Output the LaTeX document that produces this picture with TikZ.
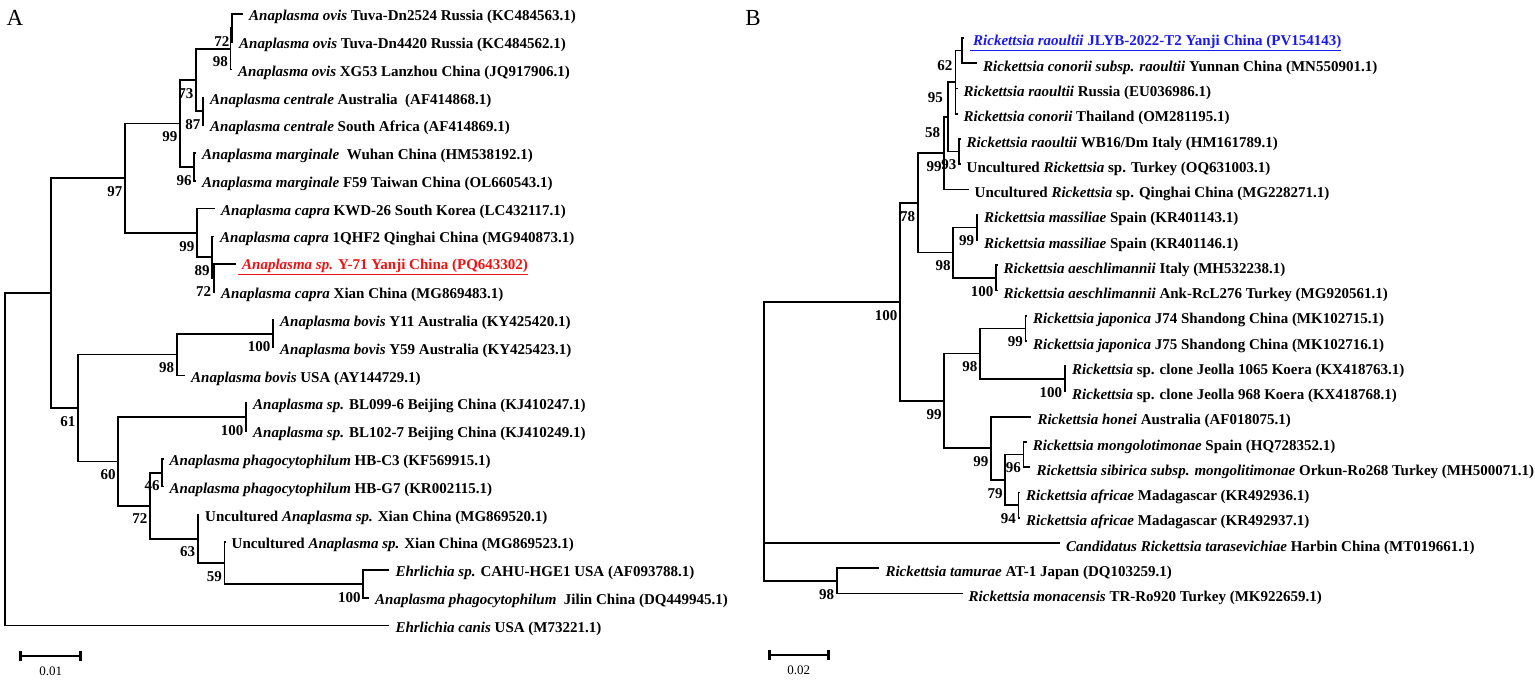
\documentclass[tikz,border=0pt]{standalone}
\usepackage{fontspec}
\setmainfont{Liberation Serif}
\definecolor{tred}{RGB}{235,20,20}
\definecolor{tblue}{RGB}{25,25,235}
\begin{document}
\begin{tikzpicture}[x=1pt,y=-1pt,
  br/.style={line width=1.75pt},
  lf/.style={anchor=west, inner xsep=6pt, inner ysep=0pt, font=\fontsize{15}{18}\selectfont\bfseries},
  leafA/.style={lf, yshift=-3pt},
  leafB/.style={lf, yshift=-4.5pt},
  bs/.style={anchor=north east, inner sep=0pt, xshift=-2.5pt, yshift=-8pt, font=\fontsize{15}{18}\selectfont\bfseries},
  bar/.style={line width=2.8pt},
  scl/.style={font=\fontsize{13}{15}\selectfont},
  panel/.style={font=\fontsize{23}{26}\selectfont}]
\useasboundingbox (0,0) rectangle (1535,680);

% ---------------- Tree A: internal nodes
\coordinate (a72) at (232,27.9);
\coordinate (a98) at (230.5,48.75);
\coordinate (a87) at (203,111.3);
\coordinate (a73) at (196,80);
\coordinate (a96) at (194.3,166.9);
\coordinate (a99) at (180,123.5);
\coordinate (a72b) at (213.8,278.1);
\coordinate (a89) at (212.3,257.25);
\coordinate (a99b) at (197,232.9);
\coordinate (a97) at (125,178.2);
\coordinate (a100) at (273,333.7);
\coordinate (a98c) at (176.7,354.55);
\coordinate (a100b) at (246,417.1);
\coordinate (a46) at (162.3,472.7);
\coordinate (a100c) at (363.3,583.9);
\coordinate (a59) at (224.5,563.05);
\coordinate (a63) at (197.7,538.7);
\coordinate (a72c) at (150,505.7);
\coordinate (a60) at (118.3,461.4);
\coordinate (a61) at (78,408);
\coordinate (aN) at (51,293.1);
\coordinate (aR) at (5,459.35);
% Tree A: tips
\coordinate (tA1) at (243,14);
\coordinate (tA2) at (233,41.8);
\coordinate (tA3) at (232,69.6);
\coordinate (tA4) at (204,97.4);
\coordinate (tA5) at (204,125.2);
\coordinate (tA6) at (196,153);
\coordinate (tA7) at (196,180.8);
\coordinate (tA8) at (215,208.6);
\coordinate (tA9) at (214,236.4);
\coordinate (tA10) at (236,264.2);
\coordinate (tA11) at (215,292);
\coordinate (tA12) at (274,319.8);
\coordinate (tA13) at (274,347.6);
\coordinate (tA14) at (185,375.4);
\coordinate (tA15) at (247,403.2);
\coordinate (tA16) at (247,431);
\coordinate (tA17) at (163.5,458.8);
\coordinate (tA18) at (163.5,486.6);
\coordinate (tA19) at (199,514.4);
\coordinate (tA20) at (225.5,542.2);
\coordinate (tA21) at (389.3,570);
\coordinate (tA22) at (369,597.8);
\coordinate (tA23) at (389.3,625.6);

\foreach \p/\c in {aR/aN,aR/tA23,aN/a97,aN/a61,a97/a99,a97/a99b,a99/a73,a99/a96,
  a73/a98,a73/a87,a98/a72,a98/tA3,a72/tA1,a72/tA2,a87/tA4,a87/tA5,a96/tA6,a96/tA7,
  a99b/tA8,a99b/a89,a89/tA9,a89/a72b,a72b/tA10,a72b/tA11,a61/a98c,a61/a60,
  a98c/a100,a98c/tA14,a100/tA12,a100/tA13,a60/a100b,a60/a72c,a100b/tA15,a100b/tA16,
  a72c/a46,a72c/a63,a46/tA17,a46/tA18,a63/tA19,a63/a59,a59/tA20,a59/a100c,
  a100c/tA21,a100c/tA22}
  \draw[br] (\p) |- (\c);

% Tree A: bootstrap values
\foreach \n/\v in {a72/72,a98/98,a73/73,a87/87,a99/99,a96/96,a97/97,a99b/99,a89/89,
  a72b/72,a100/100,a98c/98,a61/61,a100b/100,a60/60,a46/46,a72c/72,a63/63,a59/59,a100c/100}
  \node[bs] (v\n) at (\n) {\v};

% Tree A: taxa
\node[leafA] (LA1) at (tA1) {\textit{Anaplasma ovis} Tuva-Dn2524 Russia (KC484563.1)};
\node[leafA] (LA2) at (tA2) {\textit{Anaplasma ovis} Tuva-Dn4420 Russia (KC484562.1)};
\node[leafA] (LA3) at (tA3) {\textit{Anaplasma ovis} XG53 Lanzhou China (JQ917906.1)};
\node[leafA] (LA4) at (tA4) {\textit{Anaplasma centrale} Australia\ \ (AF414868.1)};
\node[leafA] (LA5) at (tA5) {\textit{Anaplasma centrale} South Africa (AF414869.1)};
\node[leafA] (LA6) at (tA6) {\textit{Anaplasma marginale}\ \ Wuhan China (HM538192.1)};
\node[leafA] (LA7) at (tA7) {\textit{Anaplasma marginale} F59 Taiwan China (OL660543.1)};
\node[leafA] (LA8) at (tA8) {\textit{Anaplasma capra} KWD-26 South Korea (LC432117.1)};
\node[leafA] (LA9) at (tA9) {\textit{Anaplasma capra} 1QHF2 Qinghai China (MG940873.1)};
\node[leafA, text=tred, xshift=-4pt] (LA10) at (tA10) {\underline{\hspace{4pt}\textit{Anaplasma sp.} Y-71 Yanji China (PQ643302)}};
\node[leafA] (LA11) at (tA11) {\textit{Anaplasma capra} Xian China (MG869483.1)};
\node[leafA] (LA12) at (tA12) {\textit{Anaplasma bovis} Y11 Australia (KY425420.1)};
\node[leafA] (LA13) at (tA13) {\textit{Anaplasma bovis} Y59 Australia (KY425423.1)};
\node[leafA] (LA14) at (tA14) {\textit{Anaplasma bovis} USA (AY144729.1)};
\node[leafA] (LA15) at (tA15) {\textit{Anaplasma sp.} BL099-6 Beijing China (KJ410247.1)};
\node[leafA] (LA16) at (tA16) {\textit{Anaplasma sp.} BL102-7 Beijing China (KJ410249.1)};
\node[leafA] (LA17) at (tA17) {\textit{Anaplasma phagocytophilum} HB-C3 (KF569915.1)};
\node[leafA] (LA18) at (tA18) {\textit{Anaplasma phagocytophilum} HB-G7 (KR002115.1)};
\node[leafA] (LA19) at (tA19) {Uncultured \textit{Anaplasma sp.} Xian China (MG869520.1)};
\node[leafA] (LA20) at (tA20) {Uncultured \textit{Anaplasma sp.} Xian China (MG869523.1)};
\node[leafA] (LA21) at (tA21) {\textit{Ehrlichia sp.} CAHU-HGE1 USA (AF093788.1)};
\node[leafA] (LA22) at (tA22) {\textit{Anaplasma phagocytophilum}\ \ Jilin China (DQ449945.1)};
\node[leafA] (LA23) at (tA23) {\textit{Ehrlichia canis} USA (M73221.1)};

% ---------------- Tree B: internal nodes
\coordinate (b62) at (962,50.6);
\coordinate (b95) at (955.5,82.2);
\coordinate (b93) at (959,151.6);
\coordinate (b58) at (947.7,116.9);
\coordinate (b99) at (944.3,153.2);
\coordinate (b99m) at (976.8,227.4);
\coordinate (b100a) at (996,277.9);
\coordinate (b98) at (953.3,252.6);
\coordinate (b78) at (917.7,202.9);
\coordinate (b99j) at (1025.5,328.4);
\coordinate (b100j) at (1064.7,378.9);
\coordinate (b98c) at (980,353.6);
\coordinate (b96) at (1023.5,454.6);
\coordinate (b94) at (1018.6,505.1);
\coordinate (b79) at (1005.3,479.9);
\coordinate (b99e) at (991,448.3);
\coordinate (b99c) at (944.3,401);
\coordinate (b100) at (900,302);
\coordinate (b98f) at (836.7,580.9);
\coordinate (bR) at (764.3,441);
% Tree B: tips
\coordinate (tB1) at (964,38);
\coordinate (tB2) at (977,63.25);
\coordinate (tB3) at (957.5,88.5);
\coordinate (tB4) at (957.5,113.75);
\coordinate (tB5) at (960.5,139);
\coordinate (tB6) at (960.5,164.25);
\coordinate (tB7) at (968.5,189.5);
\coordinate (tB8) at (978,214.75);
\coordinate (tB9) at (978,240);
\coordinate (tB10) at (997.5,265.25);
\coordinate (tB11) at (997.5,290.5);
\coordinate (tB12) at (1027,315.75);
\coordinate (tB13) at (1027,341);
\coordinate (tB14) at (1066,366.25);
\coordinate (tB15) at (1066,391.5);
\coordinate (tB16) at (1031.3,416.75);
\coordinate (tB17) at (1026.7,442);
\coordinate (tB18) at (1030.4,467.25);
\coordinate (tB19) at (1020,492.5);
\coordinate (tB20) at (1020,517.75);
\coordinate (tB21) at (1060,543);
\coordinate (tB22) at (879.3,568.25);
\coordinate (tB23) at (962.5,593.5);

\foreach \p/\c in {bR/b100,bR/tB21,bR/b98f,b100/b78,b100/b99c,b78/b99,b78/b98,
  b99/b58,b99/tB7,b58/b95,b58/b93,b95/b62,b95/tB3,b95/tB4,b62/tB1,b62/tB2,
  b93/tB5,b93/tB6,b98/b99m,b98/b100a,b99m/tB8,b99m/tB9,b100a/tB10,b100a/tB11,
  b99c/b98c,b99c/b99e,b98c/b99j,b98c/b100j,b99j/tB12,b99j/tB13,b100j/tB14,b100j/tB15,
  b99e/tB16,b99e/b79,b79/b96,b79/b94,b96/tB17,b96/tB18,b94/tB19,b94/tB20,
  b98f/tB22,b98f/tB23}
  \draw[br] (\p) |- (\c);

% Tree B: bootstrap values
\node[bs, xshift=-7pt, yshift=-2pt] (vb62) at (b62) {62};
\node[bs, xshift=-10pt, yshift=-2pt] (vb95) at (b95) {95};
\node[bs, xshift=-5pt, yshift=-2pt] (vb58) at (b58) {58};
\foreach \n/\v in {b99/99,b93/93,b78/78,b99m/99,b98/98,b100a/100,b100/100,b99j/99,
  b98c/98,b100j/100,b99c/99,b99e/99,b96/96,b79/79,b94/94,b98f/98}
  \node[bs] (v\n) at (\n) {\v};

% Tree B: taxa
\node[leafB, text=tblue] (LB1) at (tB1) {\underline{\hspace{3pt}\textit{Rickettsia raoultii} JLYB-2022-T2 Yanji China (PV154143)}};
\node[leafB] (LB2) at (tB2) {\textit{Rickettsia conorii subsp. raoultii} Yunnan China (MN550901.1)};
\node[leafB] (LB3) at (tB3) {\textit{Rickettsia raoultii} Russia (EU036986.1)};
\node[leafB] (LB4) at (tB4) {\textit{Rickettsia conorii} Thailand (OM281195.1)};
\node[leafB] (LB5) at (tB5) {\textit{Rickettsia raoultii} WB16/Dm Italy (HM161789.1)};
\node[leafB] (LB6) at (tB6) {Uncultured \textit{Rickettsia} sp. Turkey (OQ631003.1)};
\node[leafB] (LB7) at (tB7) {Uncultured \textit{Rickettsia} sp. Qinghai China (MG228271.1)};
\node[leafB] (LB8) at (tB8) {\textit{Rickettsia massiliae} Spain (KR401143.1)};
\node[leafB] (LB9) at (tB9) {\textit{Rickettsia massiliae} Spain (KR401146.1)};
\node[leafB] (LB10) at (tB10) {\textit{Rickettsia aeschlimannii} Italy (MH532238.1)};
\node[leafB] (LB11) at (tB11) {\textit{Rickettsia aeschlimannii} Ank-RcL276 Turkey (MG920561.1)};
\node[leafB] (LB12) at (tB12) {\textit{Rickettsia japonica} J74 Shandong China (MK102715.1)};
\node[leafB] (LB13) at (tB13) {\textit{Rickettsia japonica} J75 Shandong China (MK102716.1)};
\node[leafB] (LB14) at (tB14) {\textit{Rickettsia} sp. clone Jeolla 1065 Koera (KX418763.1)};
\node[leafB] (LB15) at (tB15) {\textit{Rickettsia} sp. clone Jeolla 968 Koera (KX418768.1)};
\node[leafB] (LB16) at (tB16) {\textit{Rickettsia honei} Australia (AF018075.1)};
\node[leafB] (LB17) at (tB17) {\textit{Rickettsia mongolotimonae} Spain (HQ728352.1)};
\node[leafB] (LB18) at (tB18) {\textit{Rickettsia sibirica subsp. mongolitimonae} Orkun-Ro268 Turkey (MH500071.1)};
\node[leafB] (LB19) at (tB19) {\textit{Rickettsia africae} Madagascar (KR492936.1)};
\node[leafB] (LB20) at (tB20) {\textit{Rickettsia africae} Madagascar (KR492937.1)};
\node[leafB] (LB21) at (tB21) {\textit{Candidatus Rickettsia tarasevichiae} Harbin China (MT019661.1)};
\node[leafB] (LB22) at (tB22) {\textit{Rickettsia tamurae} AT-1 Japan (DQ103259.1)};
\node[leafB] (LB23) at (tB23) {\textit{Rickettsia monacensis} TR-Ro920 Turkey (MK922659.1)};

% ---------------- scale bars and panel letters
\coordinate (sA1) at (20.7,656);
\coordinate (sA2) at (80.7,656);
\draw[bar] (sA1) -- (sA2);
\draw[bar] ([yshift=5pt]sA1) -- ([yshift=-5pt]sA1);
\draw[bar] ([yshift=5pt]sA2) -- ([yshift=-5pt]sA2);
\node[scl] (sAl) at (50.7,671) {0.01};

\coordinate (sB1) at (769.3,655);
\coordinate (sB2) at (828.3,655);
\draw[bar] (sB1) -- (sB2);
\draw[bar] ([yshift=5pt]sB1) -- ([yshift=-5pt]sB1);
\draw[bar] ([yshift=5pt]sB2) -- ([yshift=-5pt]sB2);
\node[scl] (sBl) at (798.8,670) {0.02};

\node[panel] (pA) at (15,18) {A};
\node[panel] (pB) at (753,18) {B};
\end{tikzpicture}
\end{document}
